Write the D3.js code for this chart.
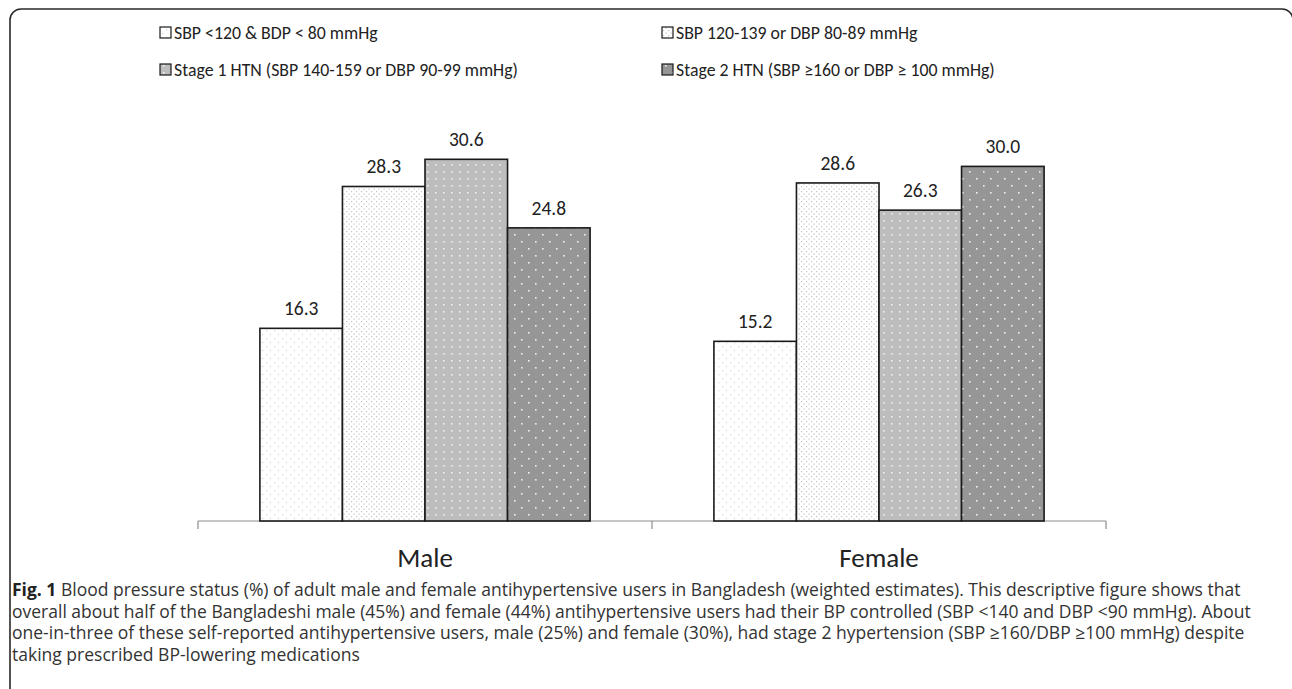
<!DOCTYPE html>
<html>
<head>
<meta charset="utf-8">
<script src="https://cdn.jsdelivr.net/npm/d3@7"></script>
<style>
  html, body { margin: 0; padding: 0; background: #fff; }
  svg { display: block; }
</style>
</head>
<body>
<svg id="chart" width="1292" height="689"></svg>
<script>
const categories = ["Male", "Female"];
const seriesNames = [
  "SBP <120 & BDP < 80 mmHg",
  "SBP 120-139 or DBP 80-89 mmHg",
  "Stage 1 HTN (SBP 140-159 or DBP 90-99 mmHg)",
  "Stage 2 HTN (SBP \u2265160 or DBP \u2265 100 mmHg)"
];
const maleValues = [16.3, 28.3, 30.6, 24.8];
const femaleValues = [15.2, 28.6, 26.3, 30.0];
const valueLabels = ["16.3", "28.3", "30.6", "24.8", "15.2", "28.6", "26.3", "30.0"];
const captionBold = "Fig. 1";
const captionLines = [
  " Blood pressure status (%) of adult male and female antihypertensive users in Bangladesh (weighted estimates). This descriptive figure shows that",
  "overall about half of the Bangladeshi male (45%) and female (44%) antihypertensive users had their BP controlled (SBP <140 and DBP <90 mmHg). About",
  "one-in-three of these self-reported antihypertensive users, male (25%) and female (30%), had stage 2 hypertension (SBP \u2265160/DBP \u2265100 mmHg) despite",
  "taking prescribed BP-lowering medications"
];

const valuesByCat = { Male: maleValues, Female: femaleValues };

const svg = d3.select("#chart");
const chartFont = "Carlito, Calibri, Lato, sans-serif";
const captionFont = "'Open Sans', 'Noto Sans', sans-serif";
const textColor = "#222";

// patterns
const defs = svg.append("defs");
function dotPattern(id, w, h, bg, dotColor, dots, r) {
  const p = defs.append("pattern").attr("id", id).attr("patternUnits", "userSpaceOnUse")
    .attr("width", w).attr("height", h);
  p.append("rect").attr("width", w).attr("height", h).attr("fill", bg);
  dots.forEach(d => p.append("rect").attr("x", d[0]).attr("y", d[1]).attr("width", r).attr("height", r).attr("fill", dotColor));
}
dotPattern("p0", 8, 8, "#fff", "#d6d6d6", [[2, 2], [6, 6]], 1.2);
dotPattern("p1", 5, 5, "#fff", "#c4c4c4", [[1, 1], [3.5, 3.5]], 1.2);
dotPattern("p2", 8, 7, "#bdbdbd", "#f2f2f2", [[3, 3]], 1.6);
dotPattern("p3", 14, 14, "#969696", "#f0f0f0", [[3, 3], [10, 10]], 1.6);
const fills = ["url(#p0)", "url(#p1)", "url(#p2)", "url(#p3)"];

// frame
svg.append("rect").attr("x", 10).attr("y", 9).attr("width", 1283).attr("height", 700)
  .attr("rx", 11).attr("ry", 11).attr("fill", "none").attr("stroke", "#2a2a2a").attr("stroke-width", 1.6);

// scales
const x0 = d3.scaleBand().domain(categories).range([198, 1106]).paddingInner(0).paddingOuter(0);
const x1 = d3.scaleBand().domain(d3.range(seriesNames.length)).range([0, x0.bandwidth()])
  .paddingInner(0).paddingOuter(0.75);
const y = d3.scaleLinear().domain([0, 35]).range([521, 107.3]);

// axis
const axisG = svg.append("g").attr("transform", `translate(0,${y(0)})`);
axisG.append("line").attr("x1", x0.range()[0]).attr("x2", x0.range()[1]).attr("y1", 0).attr("y2", 0)
  .attr("stroke", "#8c8c8c").attr("stroke-width", 1.2);
const tickPositions = categories.map(c => x0(c)).concat([x0.range()[1]]);
axisG.selectAll("line.tick").data(tickPositions).join("line").attr("class", "tick")
  .attr("x1", d => d).attr("x2", d => d).attr("y1", 0).attr("y2", 8)
  .attr("stroke", "#8c8c8c").attr("stroke-width", 1.2);

// bars
const barData = [];
categories.forEach((c, ci) => valuesByCat[c].forEach((v, si) => barData.push({ c, si, v, label: valueLabels[ci * 4 + si] })));

svg.append("g").selectAll("rect").data(barData).join("rect")
  .attr("x", d => x0(d.c) + x1(d.si))
  .attr("y", d => y(d.v))
  .attr("width", x1.bandwidth())
  .attr("height", d => y(0) - y(d.v))
  .attr("fill", d => fills[d.si])
  .attr("stroke", "#1a1a1a").attr("stroke-width", 1.6);

svg.append("g").selectAll("text").data(barData).join("text")
  .attr("x", d => x0(d.c) + x1(d.si) + x1.bandwidth() / 2)
  .attr("y", d => y(d.v) - 13)
  .attr("text-anchor", "middle")
  .attr("font-family", chartFont).attr("font-size", 19.5).attr("fill", textColor)
  .text(d => d.label);

// category labels
svg.append("g").selectAll("text").data(categories).join("text")
  .attr("x", d => x0(d) + x0.bandwidth() / 2)
  .attr("y", 567)
  .attr("text-anchor", "middle")
  .attr("font-family", chartFont).attr("font-size", 27).attr("fill", textColor)
  .text(d => d);

// legend
const legendPos = [[160, 39], [662, 39], [160, 76], [662, 76]];
const lg = svg.append("g").selectAll("g").data(seriesNames).join("g")
  .attr("transform", (d, i) => `translate(${legendPos[i][0]},${legendPos[i][1]})`);
lg.append("rect").attr("x", 0).attr("y", -12).attr("width", 11).attr("height", 11)
  .attr("fill", (d, i) => fills[i]).attr("stroke", "#1a1a1a").attr("stroke-width", 1.2);
lg.append("text").attr("x", 14).attr("y", 0)
  .attr("font-family", chartFont).attr("font-size", 17.8).attr("fill", textColor)
  .text(d => d);

// caption
const cap = svg.append("g");
captionLines.forEach((line, i) => {
  const t = cap.append("text").attr("x", 12).attr("y", 596 + i * 21.5)
    .attr("font-family", captionFont).attr("font-size", 17.5).attr("fill", "#333");
  if (i === 0) {
    t.append("tspan").attr("font-weight", "bold").attr("fill", "#222").text(captionBold);
  }
  t.append("tspan").attr("xml:space", "preserve").style("white-space", "pre").text(line);
});
</script>
</body>
</html>
